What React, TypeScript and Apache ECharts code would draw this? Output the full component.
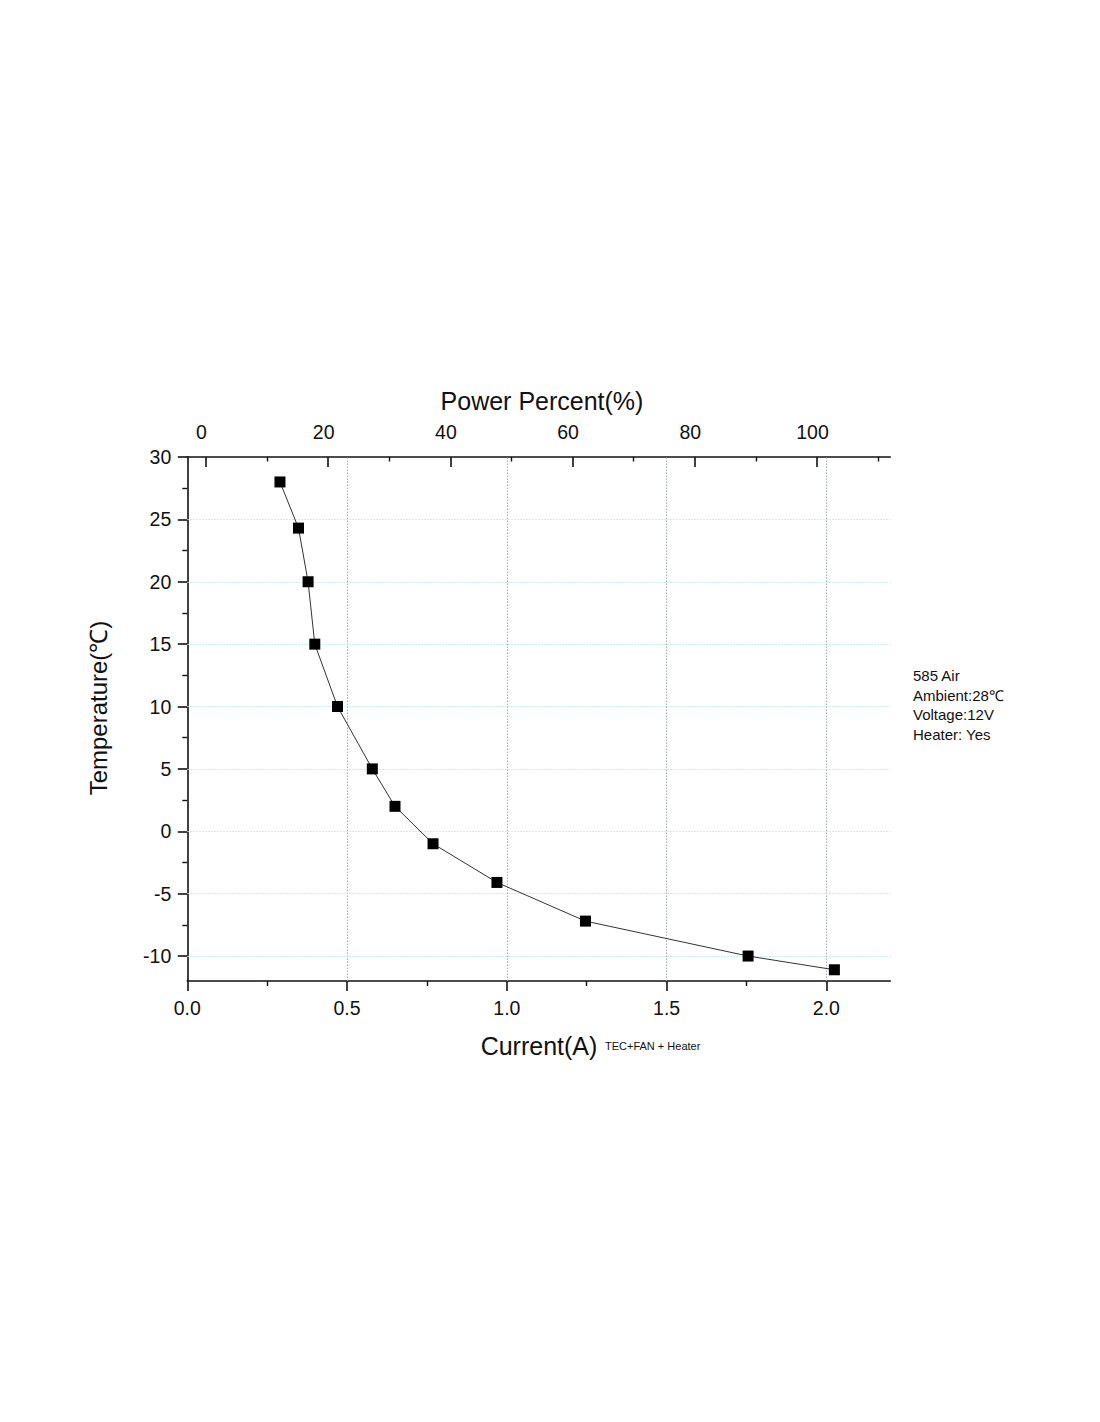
import React, { useEffect, useRef } from "react";
import * as echarts from "echarts";

// ---- data ----
const currentA = [0.29, 0.348, 0.378, 0.399, 0.47, 0.579, 0.65, 0.769, 0.969, 1.246, 1.755, 2.025];
const temperatureC = [28, 24.3, 20, 15, 10, 5, 2, -1, -4.1, -7.2, -10, -11.1];

const currentTicks = [0, 0.5, 1, 1.5, 2];
const currentMinorTicks = [0.25, 0.75, 1.25, 1.75];
const powerTicks = [0, 20, 40, 60, 80, 100];
const powerMinorTicks = [10, 30, 50, 70, 90, 110];
const tempTicks = [-10, -5, 0, 5, 10, 15, 20, 25, 30];
const tempMinorTicks = [-7.5, -2.5, 2.5, 7.5, 12.5, 17.5, 22.5, 27.5];
const verticalGrid = [0.5, 1, 1.5, 2];
const horizontalGrid = [-10, -5, 0, 5, 10, 15, 20, 25];

const infoLines = ["585 Air", "Ambient:28℃", "Voltage:12V", "Heater: Yes"];
const xTitle = "Current(A)";
const xSubTitle = "TEC+FAN + Heater";
const topTitle = "Power Percent(%)";
const yTitle = "Temperature(℃)";

const FONT = "Liberation Sans, Arial, Helvetica, sans-serif";
const INK = "#111";

export default function App() {
  const ref = useRef<HTMLDivElement>(null);

  useEffect(() => {
    if (!ref.current) return;
    const chart = echarts.init(ref.current, undefined, { renderer: "svg" });

    const gridLeft = 187.3;
    const gridTop = 457;
    const gridW = 703;
    const gridH = 524;

    const axisLine = { show: true, onZero: false, lineStyle: { color: INK, width: 1.6 } };
    const hiddenLine = { show: false, onZero: false };
    const labelStyle = { color: INK, fontSize: 19.5, fontFamily: FONT };

    const option: any = {
      animation: false,
      backgroundColor: "#fff",
      grid: { left: gridLeft, top: gridTop, width: gridW, height: gridH, containLabel: false },
      xAxis: [
        {
          type: "value",
          position: "bottom",
          min: 0,
          max: 2.2,
          axisLine,
          axisTick: { show: true, inside: false, length: 10, customValues: currentTicks, lineStyle: { color: INK, width: 1.6 } },
          axisLabel: {
            ...labelStyle,
            margin: 17,
            customValues: currentTicks,
            formatter: (v: number) => v.toFixed(1),
          },
          splitLine: { show: false },
        },
        {
          type: "value",
          position: "bottom",
          min: 0,
          max: 2.2,
          axisLine: hiddenLine,
          axisTick: { show: true, inside: false, length: 5, customValues: currentMinorTicks, lineStyle: { color: INK, width: 1.4 } },
          axisLabel: { show: false },
          splitLine: { show: false },
        },
        {
          type: "value",
          position: "top",
          min: -3.06,
          max: 112.0,
          axisLine,
          axisTick: { show: true, inside: true, length: 10, customValues: powerTicks, lineStyle: { color: INK, width: 1.6 } },
          axisLabel: { ...labelStyle, margin: 15, customValues: powerTicks, padding: [0, 9, 0, 0] },
          splitLine: { show: false },
        },
        {
          type: "value",
          position: "top",
          min: -3.06,
          max: 112.0,
          axisLine: hiddenLine,
          axisTick: { show: true, inside: true, length: 4.5, customValues: powerMinorTicks, lineStyle: { color: INK, width: 1.4 } },
          axisLabel: { show: false },
          splitLine: { show: false },
        },
      ],
      yAxis: [
        {
          type: "value",
          position: "left",
          min: -12,
          max: 30,
          axisLine,
          axisTick: { show: true, inside: false, length: 9.5, customValues: tempTicks, lineStyle: { color: INK, width: 1.6 } },
          axisLabel: { ...labelStyle, margin: 16, customValues: tempTicks },
          splitLine: { show: false },
        },
        {
          type: "value",
          position: "left",
          min: -12,
          max: 30,
          axisLine: hiddenLine,
          axisTick: { show: true, inside: false, length: 5, customValues: tempMinorTicks, lineStyle: { color: INK, width: 1.4 } },
          axisLabel: { show: false },
          splitLine: { show: false },
        },
      ],
      series: [
        {
          type: "line",
          xAxisIndex: 0,
          yAxisIndex: 0,
          data: currentA.map((x, i) => [x, temperatureC[i]]),
          symbol: "rect",
          symbolSize: 11,
          itemStyle: { color: "#000" },
          lineStyle: { color: "#333", width: 1 },
          z: 5,
          markLine: {
            silent: true,
            symbol: ["none", "none"],
            label: { show: false },
            animation: false,
            z: 1,
            data: [
              ...verticalGrid.map((v) => ({
                xAxis: v,
                lineStyle: { color: "#a3a9c6", width: 1, type: [1.5, 1.5] },
              })),
              ...horizontalGrid.map((v) => ({
                yAxis: v,
                lineStyle: { color: "#b8e6e6", width: 1, type: [1.5, 1.5] },
              })),
            ],
          },
        },
      ],
      graphic: [
        {
          type: "text",
          x: 542,
          y: 401,
          style: { text: topTitle, font: `25px ${FONT}`, fill: INK, textAlign: "center", textVerticalAlign: "middle" },
        },
        {
          type: "text",
          x: 539,
          y: 1046,
          style: { text: xTitle, font: `25px ${FONT}`, fill: INK, textAlign: "center", textVerticalAlign: "middle" },
        },
        {
          type: "text",
          x: 605,
          y: 1046,
          style: { text: xSubTitle, font: `11px ${FONT}`, fill: INK, textAlign: "left", textVerticalAlign: "middle" },
        },
        {
          type: "text",
          x: 98,
          y: 708,
          rotation: Math.PI / 2,
          style: { text: yTitle, font: `24px ${FONT}`, fill: INK, textAlign: "center", textVerticalAlign: "middle" },
        },
        ...infoLines.map((t, i) => ({
          type: "text",
          x: 913,
          y: 675.5 + i * 19.5,
          style: { text: t, font: `15px ${FONT}`, fill: INK, textAlign: "left", textVerticalAlign: "middle" },
        })),
      ],
    };

    chart.setOption(option);
    return () => chart.dispose();
  }, []);

  return (
    <div
      ref={ref}
      style={{ position: "absolute", left: 0, top: 0, width: 1100, height: 1422, background: "#fff" }}
    />
  );
}
